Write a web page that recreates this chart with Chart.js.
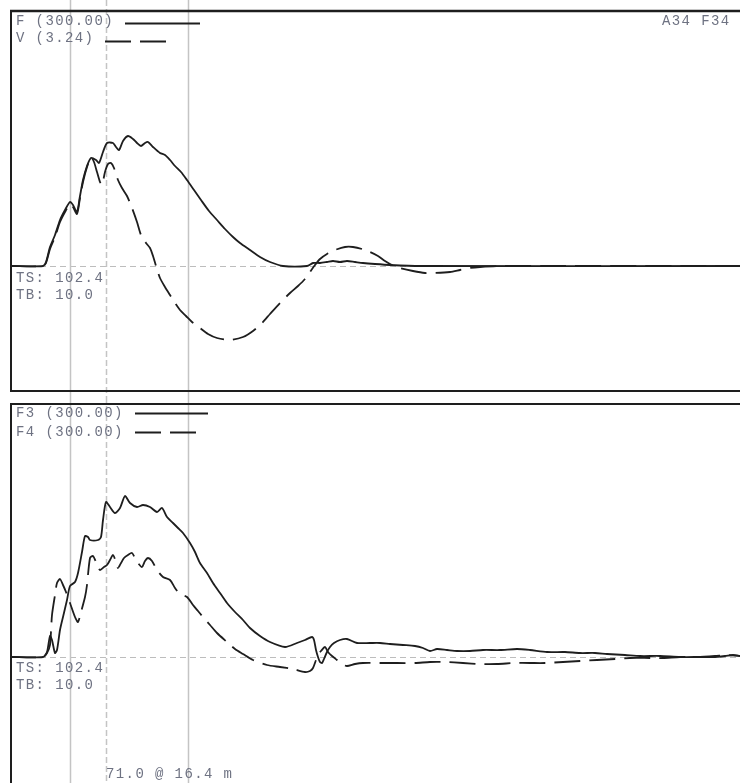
<!DOCTYPE html>
<html>
<head>
<meta charset="utf-8">
<script src="https://cdn.jsdelivr.net/npm/chart.js@4/dist/chart.umd.min.js"></script>
<style>
  html, body { margin: 0; padding: 0; background: #fff; }
  #wrap { position: relative; width: 740px; height: 783px; overflow: hidden; }
  canvas { position: absolute; left: 0; }
  .lbl {
    position: absolute; white-space: pre;
    font-family: "Liberation Mono", "DejaVu Sans Mono", monospace;
    font-size: 14px; line-height: 16px; letter-spacing: 1.4px;
    color: #6e7282;
  }
</style>
</head>
<body>
<div id="wrap">
  <canvas id="topChart" width="740" height="397" style="top:0"></canvas>
  <canvas id="botChart" width="740" height="386" style="top:397px"></canvas>

  <div class="lbl" style="left:16px;top:13px">F (300.00)</div>
  <div class="lbl" style="left:16px;top:30px">V (3.24)</div>
  <div class="lbl" style="left:662px;top:13px">A34 F34</div>
  <div class="lbl" style="left:16px;top:270px">TS: 102.4</div>
  <div class="lbl" style="left:16px;top:287px">TB: 10.0</div>

  <div class="lbl" style="left:16px;top:405px">F3 (300.00)</div>
  <div class="lbl" style="left:16px;top:424px">F4 (300.00)</div>
  <div class="lbl" style="left:16px;top:660px">TS: 102.4</div>
  <div class="lbl" style="left:16px;top:677px">TB: 10.0</div>
  <div class="lbl" style="left:106px;top:766px">71.0 @ 16.4 m</div>
</div>

<script>
// top panel: force (F) and velocity (V)
const topFx = [0,33,36,40,45,50,55,60,63,67,70,73,77,81,86,89,93,97,103,106,109,113,118,123,127,131,135,138,143,150,155,160,165,171,177,184,191,199,207,215,223,230,240,250,260,273,297,303,310,317,323,330,337,345,353,365,380,410,730];
const topFy = [0,0,4,19,31,46,56,64,61,54,70,86,100,108,106,103,114,123,123,119,116,125,130,127,123,120,123,124,119,113,111,106,100,94,86,76,66,55,46,37,29,23,16,9,4,0,0,3,3,4,5,4,5,4,3,2,1,0,0];

const topVx = [0,33,36,40,45,50,55,60,63,67,70,73,77,81,84,87,90,92,95,98,101,104,108,112,117,122,127,131,136,140,143,146,150,155,160,165,170,176,182,190,198,207,220,233,243,252,260,270,280,288,295,300,305,310,317,325,335,343,352,360,368,375,382,390,403,415,425,440,450,460,470,490,730];
const topVy = [0,0,3,17,29,44,54,62,59,52,68,84,99,109,104,94,84,81,94,102,103,98,86,78,70,58,44,31,23,18,10,0,-12,-21,-29,-37,-44,-50,-56,-62,-68,-72,-74,-71,-65,-57,-48,-37,-27,-20,-13,-6,1,7,12,16,19,19,17,14,10,5,1,-2,-5,-7,-7,-6,-4,-2,-1,0,0];

// bottom panel: strain-derived forces F3 and F4
const botF3x = [0,33,37,40,42,45,47,50,53,57,60,65,68,72,75,78,80,88,91,93,96,100,105,110,115,120,127,133,140,147,152,157,163,168,173,180,185,190,197,203,210,217,225,233,240,250,260,275,287,295,302,304,306,308,310,312,314,317,320,324,330,337,347,360,370,380,393,405,413,420,427,437,447,460,473,490,507,520,537,555,570,585,597,615,630,650,670,690,703,715,723,730];
const botF3y = [0,0,5,21,17,4,7,27,40,57,71,75,84,105,121,120,117,117,120,137,155,150,144,149,161,154,150,152,150,145,149,140,134,129,124,114,105,94,84,74,64,54,45,37,29,21,15,10,14,17,20,17,7,0,-5,-6,-2,5,10,14,17,18,14,14,14,13,12,11,9,6,8,7,6,6,7,7,8,7,5,5,4,4,3,2,1,1,0,0,0,1,2,1];

const botF4x = [0,33,37,40,42,45,47,50,53,56,60,65,68,71,75,77,80,83,86,90,94,97,100,103,106,108,111,114,118,122,125,128,132,135,138,142,147,153,160,165,170,177,183,188,193,200,207,217,225,233,243,257,270,283,295,300,303,306,308,311,315,318,322,327,332,337,345,353,370,387,405,420,435,453,470,487,505,520,535,553,570,587,605,620,640,653,670,687,705,717,730];
const botF4y = [0,0,4,12,42,62,74,78,72,65,54,40,35,45,60,72,99,101,95,87,90,92,97,102,95,89,94,99,102,104,99,94,90,96,99,96,87,80,77,69,63,60,52,46,40,32,24,15,8,3,-3,-8,-10,-12,-15,-14,-11,-3,2,6,10,5,1,-3,-7,-9,-7,-6,-6,-6,-6,-5,-5,-6,-7,-7,-6,-6,-6,-5,-4,-3,-2,-1,-1,-1,0,0,1,2,1];

const topLabels = ["F (300.00)", "V (3.24)"];
const botLabels = ["F3 (300.00)", "F4 (300.00)"];

// cursor marks shared by both panels
const cursorTimes = [60, 96, 178];
const cursorDashed = [false, true, false];

const ink = "#1e1e1e";
const cursorGrey = "#c4c4c4";

function pts(xs, ys) {
  return xs.map((x, i) => ({ x: x, y: ys[i] }));
}

const panelDecor = {
  id: "panelDecor",
  beforeDatasetsDraw(chart, args, opts) {
    const ctx = chart.ctx;
    const a = chart.chartArea;
    const xs = chart.scales.x;
    const ys = chart.scales.y;
    ctx.save();
    // baseline
    ctx.strokeStyle = "#bdbdbd";
    ctx.lineWidth = 1;
    ctx.setLineDash([6, 4]);
    const by = Math.round(ys.getPixelForValue(0)) + 0.5;
    ctx.beginPath();
    ctx.moveTo(a.left, by);
    ctx.lineTo(a.right, by);
    ctx.stroke();
    // cursors
    ctx.strokeStyle = cursorGrey;
    ctx.lineWidth = 1.5;
    cursorTimes.forEach((t, i) => {
      ctx.setLineDash(cursorDashed[i] ? [6, 3] : []);
      const px = Math.round(xs.getPixelForValue(t)) + 0.5;
      ctx.beginPath();
      ctx.moveTo(px, 0);
      ctx.lineTo(px, chart.height);
      ctx.stroke();
    });
    ctx.restore();
  },
  afterDraw(chart, args, opts) {
    const ctx = chart.ctx;
    const a = chart.chartArea;
    ctx.save();
    ctx.strokeStyle = ink;
    ctx.setLineDash([]);
    // frame
    ctx.lineWidth = opts.topWidth;
    ctx.beginPath();
    ctx.moveTo(a.left, a.top + 1);
    ctx.lineTo(a.right, a.top + 1);
    ctx.stroke();
    ctx.lineWidth = 2;
    ctx.beginPath();
    ctx.moveTo(a.left + 1, a.top);
    ctx.lineTo(a.left + 1, a.bottom);
    ctx.stroke();
    if (opts.bottomFrame) {
      ctx.beginPath();
      ctx.moveTo(a.left, a.bottom - 1);
      ctx.lineTo(a.right, a.bottom - 1);
      ctx.stroke();
    }
    // legend samples
    ctx.lineWidth = 1.8;
    opts.legend.forEach((l, i) => {
      ctx.setLineDash(i === 0 ? [] : [26, 9]);
      ctx.beginPath();
      ctx.moveTo(l[0], l[2] + 0.5);
      ctx.lineTo(l[1], l[2] + 0.5);
      ctx.stroke();
    });
    ctx.restore();
  }
};

function makePanel(id, labels, series, yMin, yMax, padding, decor) {
  return new Chart(document.getElementById(id), {
    type: "line",
    data: {
      datasets: series.map((s, i) => ({
        label: labels[i],
        data: s,
        borderColor: ink,
        borderWidth: 1.8,
        borderDash: i === 0 ? [] : [26, 9],
        borderJoinStyle: "round",
        pointRadius: 0,
        tension: 0.25,
        fill: false
      }))
    },
    options: {
      responsive: false,
      animation: false,
      devicePixelRatio: 1,
      layout: { padding: padding },
      scales: {
        x: { type: "linear", min: 0, max: 730, display: false },
        y: { type: "linear", min: yMin, max: yMax, display: false }
      },
      plugins: {
        legend: { display: false },
        tooltip: { enabled: false },
        panelDecor: decor
      }
    },
    plugins: [panelDecor]
  });
}

makePanel("topChart", topLabels,
  [pts(topFx, topFy), pts(topVx, topVy)],
  -126, 256,
  { left: 10, top: 10, right: 0, bottom: 5 },
  { topWidth: 2.5, bottomFrame: true, legend: [[125, 200, 23], [105, 173, 41]] });

makePanel("botChart", botLabels,
  [pts(botF3x, botF3y), pts(botF4x, botF4y)],
  -126, 254,
  { left: 10, top: 6, right: 0, bottom: 0 },
  { topWidth: 2, bottomFrame: false, legend: [[135, 208, 16], [135, 203, 35]] });
</script>
</body>
</html>
